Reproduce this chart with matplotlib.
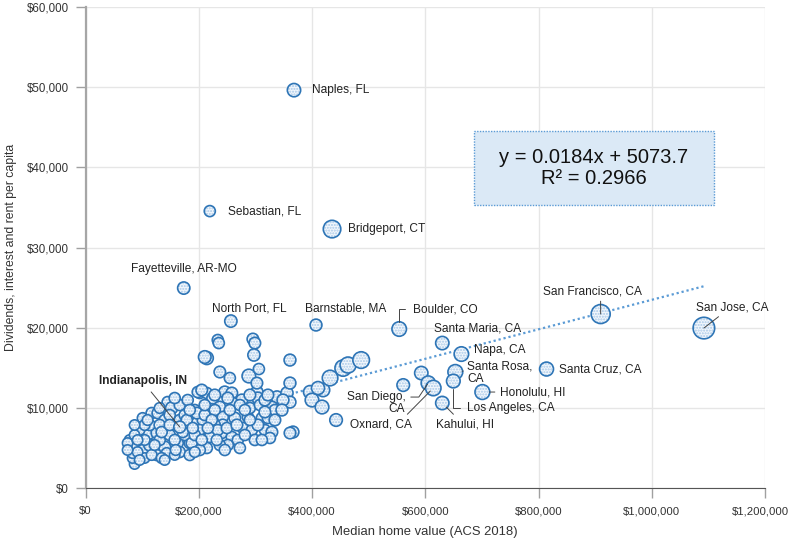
import matplotlib
matplotlib.use('Agg')
import matplotlib.pyplot as plt
from matplotlib.ticker import FuncFormatter, MultipleLocator
from matplotlib.patches import Rectangle

plt.rcParams['font.family'] = ['Liberation Sans', 'DejaVu Sans']
plt.rcParams['hatch.linewidth'] = 1.0

# ---------------- data ($ thousands) ----------------
# unlabeled metros: median home value, dividends/interest/rent per capita, median household income
home_k = [77.9, 86.7, 83.2, 83.2, 90.3, 99.1, 100.9, 109.7, 100.9, 116.8,
          127.4, 113.3, 125.7, 125.7, 139.8, 139.8, 143.4, 145.1, 152.2, 154.0,
          162.8, 166.4, 166.4, 180.5, 184.1, 184.1, 196.5, 196.5, 201.8, 207.1,
          214.2, 95.6, 113.3, 131.0, 148.7, 166.4, 175.2, 157.5, 104.4, 192.9,
          175.2, 198.2, 205.3, 224.8, 246.0, 258.4, 276.1, 302.7, 304.4, 338.1,
          355.8, 361.1, 329.2, 237.2, 260.2, 272.6, 196.5, 210.6, 242.5, 263.7,
          286.7, 311.5, 242.5, 277.9, 293.8, 316.8, 329.2, 219.5, 240.7, 258.4,
          187.6, 214.2, 325.7, 228.3, 254.9, 290.3, 308.0, 228.3, 269.0, 299.1,
          201.8, 233.6, 235.4, 295.6, 299.1, 297.4, 214.2, 210.6, 361.1, 237.2,
          254.9, 288.5, 306.2, 302.7, 361.1, 366.4, 361.1, 396.5, 400.0, 417.7,
          419.5, 410.6, 431.9, 454.9, 463.7, 486.8, 442.5, 561.1, 593.0, 131.0,
          148.7, 157.5, 175.2, 192.9, 210.6, 223.0, 233.6, 251.3, 281.4, 316.8,
          322.1, 104.4, 86.7, 74.3, 92.0, 116.8, 134.5, 184.1, 201.8, 237.2,
          290.3, 322.1, 334.5, 348.7,
          86.7, 104.4, 122.1, 134.5, 148.7, 159.3, 171.7, 178.8, 189.4, 205.3,
          216.0, 231.9, 249.6, 267.3, 281.4, 304.4, 334.5, 346.9, 316.8, 290.3,
          251.3, 228.3, 184.1, 157.5, 131.0, 109.7, 92.0, 74.3, 95.6, 139.8,
          192.9, 246.0, 272.6, 311.5]
dir_k = [5.99, 2.99, 3.74, 4.36, 5.36, 5.99, 4.74, 6.61, 8.73, 9.35,
         9.35, 5.36, 6.86, 4.12, 8.48, 5.11, 4.36, 10.72, 9.98, 7.86,
         5.61, 10.35, 4.49, 10.97, 7.23, 5.61, 8.11, 5.11, 11.85, 8.48,
         11.85, 7.23, 7.86, 5.99, 6.61, 8.48, 6.61, 4.12, 3.74, 9.73,
         9.10, 11.97, 12.22, 11.22, 11.97, 11.85, 10.97, 11.97, 11.22, 11.35,
         11.85, 10.72, 10.10, 10.10, 10.60, 10.35, 9.35, 9.10, 8.85, 8.73,
         8.85, 8.73, 7.86, 7.48, 7.23, 7.23, 6.98, 6.36, 6.86, 6.36,
         5.61, 4.99, 6.24, 7.86, 9.73, 9.98, 10.35, 9.73, 5.99, 5.99,
         7.23, 18.46, 18.08, 18.58, 18.08, 16.59, 16.21, 16.34, 15.96, 14.47,
         13.72, 13.97, 14.84, 13.09, 13.09, 6.98, 6.86, 11.97, 10.97, 10.10,
         12.22, 12.47, 13.72, 14.96, 15.34, 15.96, 8.48, 12.84, 14.34, 7.86,
         9.10, 5.99, 7.86, 6.61, 10.35, 8.48, 7.23, 5.36, 9.73, 10.97,
         8.73, 7.86, 6.61, 5.61, 4.49, 4.12, 3.74, 4.12, 4.74, 5.36,
         11.60, 11.60, 9.73, 10.97,
         7.86, 5.99, 5.36, 6.98, 7.86, 4.74, 6.98, 8.48, 7.48, 5.99,
         7.48, 5.99, 7.48, 7.86, 6.61, 7.86, 8.48, 9.73, 9.48, 8.48,
         11.22, 11.60, 9.73, 11.22, 9.98, 8.48, 5.99, 4.74, 3.49, 3.49,
         4.49, 4.74, 4.99, 5.99]
income_k = [50, 50, 50, 52, 50, 52, 55, 55, 52, 55,
            55, 60, 55, 55, 55, 60, 52, 55, 62, 55,
            55, 55, 55, 55, 60, 55, 55, 55, 55, 55,
            55, 50, 55, 55, 55, 55, 55, 50, 50, 55,
            55, 55, 58, 60, 60, 58, 60, 62, 60, 62,
            62, 60, 58, 58, 55, 55, 58, 55, 55, 58,
            55, 55, 58, 55, 55, 55, 58, 55, 55, 55,
            55, 55, 55, 55, 55, 55, 55, 55, 55, 55,
            55, 55, 55, 58, 58, 62, 68, 65, 60, 58,
            55, 72, 55, 58, 60, 60, 58, 68, 72, 72,
            70, 68, 85, 90, 88, 92, 65, 65, 70, 55,
            55, 55, 55, 55, 55, 55, 55, 55, 55, 58,
            55, 52, 50, 50, 50, 52, 52, 55, 55, 55,
            58, 58, 55, 60,
            50, 52, 52, 55, 55, 52, 55, 55, 55, 55,
            55, 55, 55, 58, 55, 58, 58, 60, 58, 55,
            58, 58, 55, 55, 52, 52, 50, 50, 50, 50,
            52, 55, 55, 55]

# labeled metros
lab_names = ['Naples, FL', 'Sebastian, FL', 'Bridgeport, CT', 'Fayetteville, AR-MO',
             'North Port, FL', 'Barnstable, MA', 'Boulder, CO', 'Santa Maria, CA',
             'Napa, CA', 'Santa Cruz, CA', 'Santa Rosa,\nCA', 'Los Angeles, CA',
             'Honolulu, HI', 'Kahului, HI', 'San Diego,\nCA', 'Oxnard, CA',
             'San Francisco, CA', 'San Jose, CA', 'Indianapolis, IN']
lab_home_k = [368.2, 219.5, 435.4, 173.5, 256.7, 407.1, 554.0, 630.1, 663.8, 814.2,
              653.1, 649.6, 700.9, 630.1, 605.3, 614.2, 909.8, 1092.1, 166.4]
lab_dir_k = [49.63, 34.54, 32.30, 24.94, 20.82, 20.33, 19.83, 18.08, 16.71, 14.84,
             14.47, 13.34, 11.97, 10.60, 13.09, 12.47, 21.70, 19.95, 7.61]
lab_income_k = [70, 55, 98, 63, 63, 60, 78, 70, 78, 74,
                80, 72, 80, 70, 76, 84, 108, 125, 60]

trend_slope = 0.0184
trend_intercept = 5073.7
trend_r2 = 0.2966

# ---------------- figure ----------------
W, H = 791, 541
fig = plt.figure(figsize=(W / 100, H / 100), dpi=100)
L, R, T, B = 85.5, 765, 7, 488
ax = fig.add_axes([L / W, 1 - B / H, (R - L) / W, (B - T) / H])

XMAX = 1200000
ax.set_xlim(0, XMAX)
ax.set_ylim(0, 60000)

EDGE = '#2e75b6'


def msize(inc):
    d_px = 2.8 + 0.15 * inc
    return (d_px * 0.72) ** 2


xs = [v * 1000 for v in home_k] + [v * 1000 for v in lab_home_k]
ys = [v * 1000 for v in dir_k] + [v * 1000 for v in lab_dir_k]
incs = list(income_k) + list(lab_income_k)

# trend line (behind bubbles)
tx = [min(xs), max(xs)]
ty = [trend_slope * v + trend_intercept for v in tx]
ax.plot(tx, ty, color='#5b9bd5', lw=1.6, ls=(0, (1, 1.3)), zorder=2)

for i, (x, y, inc) in enumerate(zip(xs, ys, incs)):
    z = 3 + i * 0.002
    s = msize(inc)
    ax.scatter([x], [y], s=s, facecolor='#f2f7fc', edgecolor='#a8c8e8',
               linewidths=0, hatch='......', zorder=z)
    ax.scatter([x], [y], s=s, facecolor='none', edgecolor=EDGE,
               linewidths=1.2, zorder=z + 0.001)

# ---------------- labels ----------------
LC = '#444444'
place = {
    'Naples, FL': dict(off=(18, 0), ha='left', va='center'),
    'Sebastian, FL': dict(off=(18, 0), ha='left', va='center'),
    'Bridgeport, CT': dict(off=(16, 0), ha='left', va='center'),
    'Fayetteville, AR-MO': dict(off=(0, 19), ha='center', va='center'),
    'North Port, FL': dict(off=(18, 13), ha='center', va='center'),
    'Barnstable, MA': dict(off=(30, 17), ha='center', va='center'),
    'Boulder, CO': dict(off=(14, 20), ha='left', va='center',
                        arrow=dict(relpos=(0, 0.5), shrinkA=4, shrinkB=5,
                                   connectionstyle='angle,angleA=0,angleB=90,rad=0')),
    'Santa Maria, CA': dict(off=(35, 15), ha='center', va='center'),
    'Napa, CA': dict(off=(13, 4), ha='left', va='center'),
    'Santa Cruz, CA': dict(off=(12, 0), ha='left', va='center'),
    'Santa Rosa,\nCA': dict(off=(12, -1), ha='left', va='center',
                            arrow=dict(relpos=(0, 0.6), shrinkA=1, shrinkB=5)),
    'Los Angeles, CA': dict(off=(14, -27), ha='left', va='center',
                            arrow=dict(relpos=(0, 0.5), shrinkA=3, shrinkB=6,
                                       connectionstyle='angle,angleA=0,angleB=90,rad=0')),
    'Honolulu, HI': dict(off=(18, 0), ha='left', va='center',
                         arrow=dict(relpos=(0, 0.5), shrinkA=2, shrinkB=5)),
    'Kahului, HI': dict(off=(23, -21), ha='center', va='center',
                        arrow=dict(relpos=(0.36, 1), shrinkA=1, shrinkB=4)),
    'San Diego,\nCA': dict(off=(-23, -20), ha='right', va='center',
                           arrow=dict(relpos=(1, 0.75), shrinkA=2, shrinkB=1,
                                      connectionstyle='angle,angleA=0,angleB=56,rad=0')),
    'Oxnard, CA': dict(off=(-21, -36), ha='right', va='center',
                       arrow=dict(relpos=(0.86, 1), shrinkA=1, shrinkB=3)),
    'San Francisco, CA': dict(off=(-8, 23), ha='center', va='center',
                              arrow=dict(relpos=(0.58, 0), shrinkA=1, shrinkB=0)),
    'San Jose, CA': dict(off=(28, 21), ha='center', va='center',
                         arrow=dict(relpos=(0.38, 0), shrinkA=1, shrinkB=0)),
    'Indianapolis, IN': dict(off=(-37, 46), ha='center', va='center', weight='bold',
                             arrow=dict(relpos=(0.55, 0), shrinkA=2, shrinkB=0)),
}

for name, x, y in zip(lab_names, lab_home_k, lab_dir_k):
    p = place[name]
    kw = dict(textcoords='offset pixels', xytext=p['off'], ha=p['ha'], va=p['va'],
              fontsize=8.6, color='#222222', zorder=20, linespacing=1.0,
              fontweight=p.get('weight', 'normal'))
    if 'arrow' in p:
        ap = dict(arrowstyle='-', color=LC, lw=0.7)
        ap.update(p['arrow'])
        kw['arrowprops'] = ap
    ax.annotate(name, xy=(x * 1000, y * 1000), **kw)

# ---------------- equation box ----------------
bx0, bx1, by0, by1 = 474, 714, 131, 205
ax.add_patch(Rectangle(((bx0 - L) / (R - L), (B - by1) / (B - T)),
                       (bx1 - bx0) / (R - L), (by1 - by0) / (B - T),
                       transform=ax.transAxes, facecolor='#dbe9f6',
                       edgecolor='#5b9bd5', lw=1.0, ls=(0, (1, 1)), zorder=25))
ax.text(((bx0 + bx1) / 2 - L) / (R - L), (B - 168) / (B - T),
        f'y = {trend_slope}x + {trend_intercept}\nR² = {trend_r2}',
        transform=ax.transAxes, ha='center', va='center', fontsize=14.5,
        color='#111111', linespacing=1.1, zorder=26)

# ---------------- axes styling ----------------
ax.xaxis.set_major_locator(MultipleLocator(200000))
ax.yaxis.set_major_locator(MultipleLocator(10000))
# last x tick label is drawn separately so it stays inside the figure
ax.xaxis.set_major_formatter(FuncFormatter(lambda v, p: '' if v >= XMAX else f'${v:,.0f}'))
ax.yaxis.set_major_formatter(FuncFormatter(lambda v, p: f'${v:,.0f}'))
ax.grid(True, color='#e6e6e6', lw=1.0, zorder=0)
ax.set_axisbelow(True)
for s in ['top', 'right']:
    ax.spines[s].set_visible(False)
ax.spines['left'].set_color('#a6a6a6')
ax.spines['left'].set_linewidth(1.6)
ax.spines['bottom'].set_color('#555555')
ax.spines['bottom'].set_linewidth(0.8)
ax.tick_params(axis='both', colors='#a0a0a0', labelcolor='#333333', labelsize=8.3,
               length=7, width=1.0)
ax.tick_params(axis='x', labelsize=8.2)
ax.tick_params(axis='y', pad=5)
ax.tick_params(axis='x', pad=6)
ax.set_xlabel('Median home value (ACS 2018)', fontsize=9.4, color='#333333', labelpad=7)
ax.set_ylabel('Dividends, interest and rent per capita', fontsize=8.8, color='#333333',
              labelpad=7)

fig.text(789 / W, 1 - 511 / H, f'${XMAX:,.0f}', ha='right', va='center',
         fontsize=8.2, color='#333333')

fig.savefig('out.png', dpi=100)
